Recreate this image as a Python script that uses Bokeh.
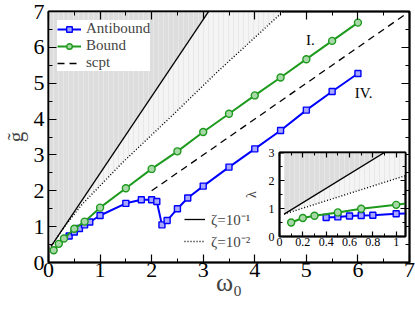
from bokeh.plotting import figure
from bokeh.models import (Range1d, LinearAxis, Legend, LegendItem,
                          SingleIntervalTicker, CustomJSTickFormatter)
from bokeh.layouts import column
from bokeh.embed import file_html
from bokeh.resources import INLINE
from bokeh.core.properties import value

# ---------------- data (main panel) ----------------
antibound_omega = [0.4, 0.5, 0.6, 0.7, 0.8, 1.0, 1.5, 1.8, 2.0, 2.1, 2.2, 2.3, 2.5, 2.7,
                   3.0, 3.5, 4.0, 4.5, 5.0, 5.5, 6.0]
antibound_g = [0.74, 0.85, 0.95, 1.05, 1.13, 1.31, 1.65, 1.75, 1.75, 1.70, 1.05, 1.17, 1.50,
               1.80, 2.13, 2.66, 3.17, 3.68, 4.25, 4.77, 5.27]
bound_omega = [0.1, 0.2, 0.3, 0.5, 0.7, 1.0, 1.5, 2.0, 2.5, 3.0, 3.5, 4.0, 4.5, 5.0, 5.5, 6.0]
bound_g = [0.34, 0.52, 0.67, 0.94, 1.14, 1.53, 2.07, 2.61, 3.10, 3.64, 4.15, 4.66, 5.16,
           5.67, 6.18, 6.69]
scpt_omega = [2.0, 7.0]
scpt_g = [2.0, 7.0]
zeta1_omega = [0.05, 3.3]
zeta1_g = [0.45, 7.42]
zeta2_omega = [0.05, 0.3, 0.65, 1.43, 2.4, 3.3, 4.55, 4.8]
zeta2_g = [0.45, 0.98, 1.62, 2.78, 4.1, 5.35, 7.0, 7.33]
regime_labels = ["I.", "IV."]
regime_omega = [5.08, 6.11]
regime_g = [6.21, 4.73]

# ---------------- data (inset) ----------------
inset_antibound_omega = [0.4, 0.5, 0.6, 0.7, 0.8, 1.0, 1.5]
inset_antibound_lambda = [0.68, 0.70, 0.73, 0.75, 0.76, 0.81, 0.87]
inset_bound_omega = [0.1, 0.2, 0.3, 0.5, 0.7, 1.0, 1.5]
inset_bound_lambda = [0.50, 0.66, 0.74, 0.86, 0.99, 1.13, 1.43]
inset_zeta1_omega = [0.04, 0.95]
inset_zeta1_lambda = [0.8, 3.13]
inset_zeta2_omega = [0.04, 1.1]
inset_zeta2_lambda = [0.8, 2.2]

SERIF = "Liberation Serif"
BLUE = "#0000ff"
BLUE_FILL = "#a8a8ff"
GREEN = "#1e9a1e"
GREEN_FILL = "#a8d8a8"
DARK = "#dddddd"
DARK_HATCH = "#e7e7e7"
LIGHT = "#f4f4f4"
LIGHT_HATCH = "#e8e8e8"


def style_axis(ax, size, tick_in, minor_in, show=True):
    ax.axis_line_color = "black"
    ax.axis_line_width = 1.5
    ax.major_tick_in = tick_in
    ax.major_tick_out = 0
    ax.minor_tick_in = minor_in
    ax.minor_tick_out = 0
    ax.major_tick_line_color = "black"
    ax.minor_tick_line_color = "black"
    ax.major_tick_line_width = 1.2
    ax.minor_tick_line_width = 1.0
    ax.major_label_text_font = SERIF
    if show:
        ax.major_label_text_color = "black"
        ax.major_label_text_font_size = size
    else:
        ax.major_label_text_color = None
        ax.major_label_text_font_size = "1px"
        ax.major_label_standoff = 0
        ax.axis_label_standoff = 0


def shade(fig, xs_, ys_, fill, hatch):
    fig.patch(xs_, ys_, fill_color=fill, line_color=None)
    fig.patch(xs_, ys_, fill_alpha=0, line_color=None,
              hatch_pattern="vertical_line", hatch_color=hatch, hatch_scale=5, hatch_weight=1)


# ---------------- main figure ----------------
p = figure(width=415, height=312, x_range=Range1d(0, 7), y_range=Range1d(0, 7),
           output_backend="svg", toolbar_location=None,
           min_border_left=48, min_border_right=6, min_border_top=11, min_border_bottom=50,
           background_fill_color="white", border_fill_color="white")
p.grid.visible = False
p.outline_line_color = "black"
p.outline_line_width = 2

xs = p.xaxis[0]
ys = p.yaxis[0]
xs.ticker = SingleIntervalTicker(interval=1, num_minor_ticks=2)
ys.ticker = SingleIntervalTicker(interval=1, num_minor_ticks=2)
style_axis(xs, "22px", 8, 4)
style_axis(ys, "22px", 8, 4)
xs.major_label_standoff = 0
ys.major_label_standoff = 4
xs.axis_label = "ω₀"
xs.axis_label_text_font = SERIF
xs.axis_label_text_font_size = "26px"
xs.axis_label_text_font_style = "normal"
xs.axis_label_standoff = -12
ys.axis_label = "g̃"
ys.axis_label_text_font = SERIF
ys.axis_label_text_font_size = "21px"
ys.axis_label_text_font_style = "normal"
ys.axis_label_standoff = 3

top = LinearAxis(ticker=SingleIntervalTicker(interval=1, num_minor_ticks=2))
style_axis(top, "0px", 8, 4, show=False)
p.add_layout(top, "above")
right = LinearAxis(ticker=SingleIntervalTicker(interval=1, num_minor_ticks=2))
style_axis(right, "0px", 8, 4, show=False)
p.add_layout(right, "right")

x0 = p.x_range.start
dark_x = [x0] + zeta1_omega + [x0]
dark_y = [zeta1_g[0]] + zeta1_g + [zeta1_g[-1]]
light_x = zeta1_omega + zeta2_omega[::-1]
light_y = zeta1_g + zeta2_g[::-1]
shade(p, light_x, light_y, LIGHT, LIGHT_HATCH)
shade(p, dark_x, dark_y, DARK, DARK_HATCH)

z1 = p.line(zeta1_omega, zeta1_g, line_color="black", line_width=1.3)
z2 = p.line(zeta2_omega, zeta2_g, line_color="black", line_width=1.4, line_dash="1 2")
sc = p.line(scpt_omega, scpt_g, line_color="black", line_width=1.3, line_dash="7 5")

bl = p.line(antibound_omega, antibound_g, line_color=BLUE, line_width=2)
bm = p.scatter(antibound_omega, antibound_g, marker="square", size=6,
               line_color=BLUE, fill_color=BLUE_FILL, line_width=1.4)
gl = p.line(bound_omega, bound_g, line_color=GREEN, line_width=2)
gm = p.scatter(bound_omega, bound_g, marker="circle", size=7,
               line_color=GREEN, fill_color=GREEN_FILL, line_width=1.4)

p.text(regime_omega, regime_g, text=regime_labels, text_font=value(SERIF),
       text_font_size="15px", text_align="center", text_baseline="middle", text_color="black")

leg1 = Legend(items=[LegendItem(label="Antibound", renderers=[bl, bm]),
                     LegendItem(label="Bound", renderers=[gl, gm]),
                     LegendItem(label="scpt", renderers=[sc])],
              location="top_left", margin=9, padding=3, spacing=0,
              glyph_width=24, glyph_height=14, label_height=14, label_standoff=5,
              label_text_font=SERIF, label_text_font_size="15px",
              background_fill_color="white", background_fill_alpha=1,
              border_line_color=None)
p.add_layout(leg1)

leg2 = Legend(items=[LegendItem(label="ζ=10⁻¹", renderers=[z1]),
                     LegendItem(label="ζ=10⁻²", renderers=[z2])],
              location=(136, 11), padding=0, spacing=2,
              glyph_width=21, glyph_height=16, label_height=16, label_standoff=6,
              label_text_font=SERIF, label_text_font_size="15px",
              background_fill_alpha=0, border_line_color=None)
p.add_layout(leg2)

# ---------------- inset ----------------
ins = figure(width=180, height=107, x_range=Range1d(0, 1.08), y_range=Range1d(0, 3),
             output_backend="svg", toolbar_location=None,
             min_border_left=48, min_border_right=6, min_border_top=7, min_border_bottom=16,
             background_fill_color="white", border_fill_color=None,
             margin=(-167, 0, 0, 231))
ins.grid.visible = False
ins.outline_line_color = "black"
ins.outline_line_width = 2
ix = ins.xaxis[0]
iy = ins.yaxis[0]
ix.ticker = SingleIntervalTicker(interval=0.2, num_minor_ticks=2)
iy.ticker = SingleIntervalTicker(interval=1, num_minor_ticks=2)
ix.formatter = CustomJSTickFormatter(code="return String(Number(tick.toFixed(1)));")
style_axis(ix, "12px", 5, 3)
style_axis(iy, "12px", 5, 3)
ix.major_label_standoff = 1
iy.major_label_standoff = 5
iy.axis_label = "λ"
iy.axis_label_text_font = SERIF
iy.axis_label_text_font_size = "14px"
iy.axis_label_text_font_style = "normal"
iy.axis_label_standoff = 7
itop = LinearAxis(ticker=SingleIntervalTicker(interval=0.2, num_minor_ticks=2))
style_axis(itop, "0px", 5, 3, show=False)
ins.add_layout(itop, "above")
iright = LinearAxis(ticker=SingleIntervalTicker(interval=1, num_minor_ticks=2))
style_axis(iright, "0px", 5, 3, show=False)
ins.add_layout(iright, "right")

idark_x = inset_zeta1_omega + [inset_zeta1_omega[0]]
idark_y = inset_zeta1_lambda + [inset_zeta1_lambda[-1]]
ilight_x = inset_zeta1_omega + [inset_zeta2_omega[-1]] + inset_zeta2_omega[::-1]
ilight_y = inset_zeta1_lambda + [inset_zeta1_lambda[-1]] + inset_zeta2_lambda[::-1]
shade(ins, ilight_x, ilight_y, LIGHT, LIGHT_HATCH)
shade(ins, idark_x, idark_y, DARK, DARK_HATCH)
ins.line(inset_zeta1_omega, inset_zeta1_lambda, line_color="black", line_width=1.3)
ins.line(inset_zeta2_omega, inset_zeta2_lambda, line_color="black", line_width=1.4, line_dash="1 2")
ins.line(inset_antibound_omega, inset_antibound_lambda, line_color=BLUE, line_width=2)
ins.scatter(inset_antibound_omega, inset_antibound_lambda, marker="square", size=6,
            line_color=BLUE, fill_color=BLUE_FILL, line_width=1.4)
ins.line(inset_bound_omega, inset_bound_lambda, line_color=GREEN, line_width=2)
ins.scatter(inset_bound_omega, inset_bound_lambda, marker="circle", size=7,
            line_color=GREEN, fill_color=GREEN_FILL, line_width=1.4)

layout = column(p, ins, spacing=0)
open("out.html", "w").write(file_html(layout, INLINE))
